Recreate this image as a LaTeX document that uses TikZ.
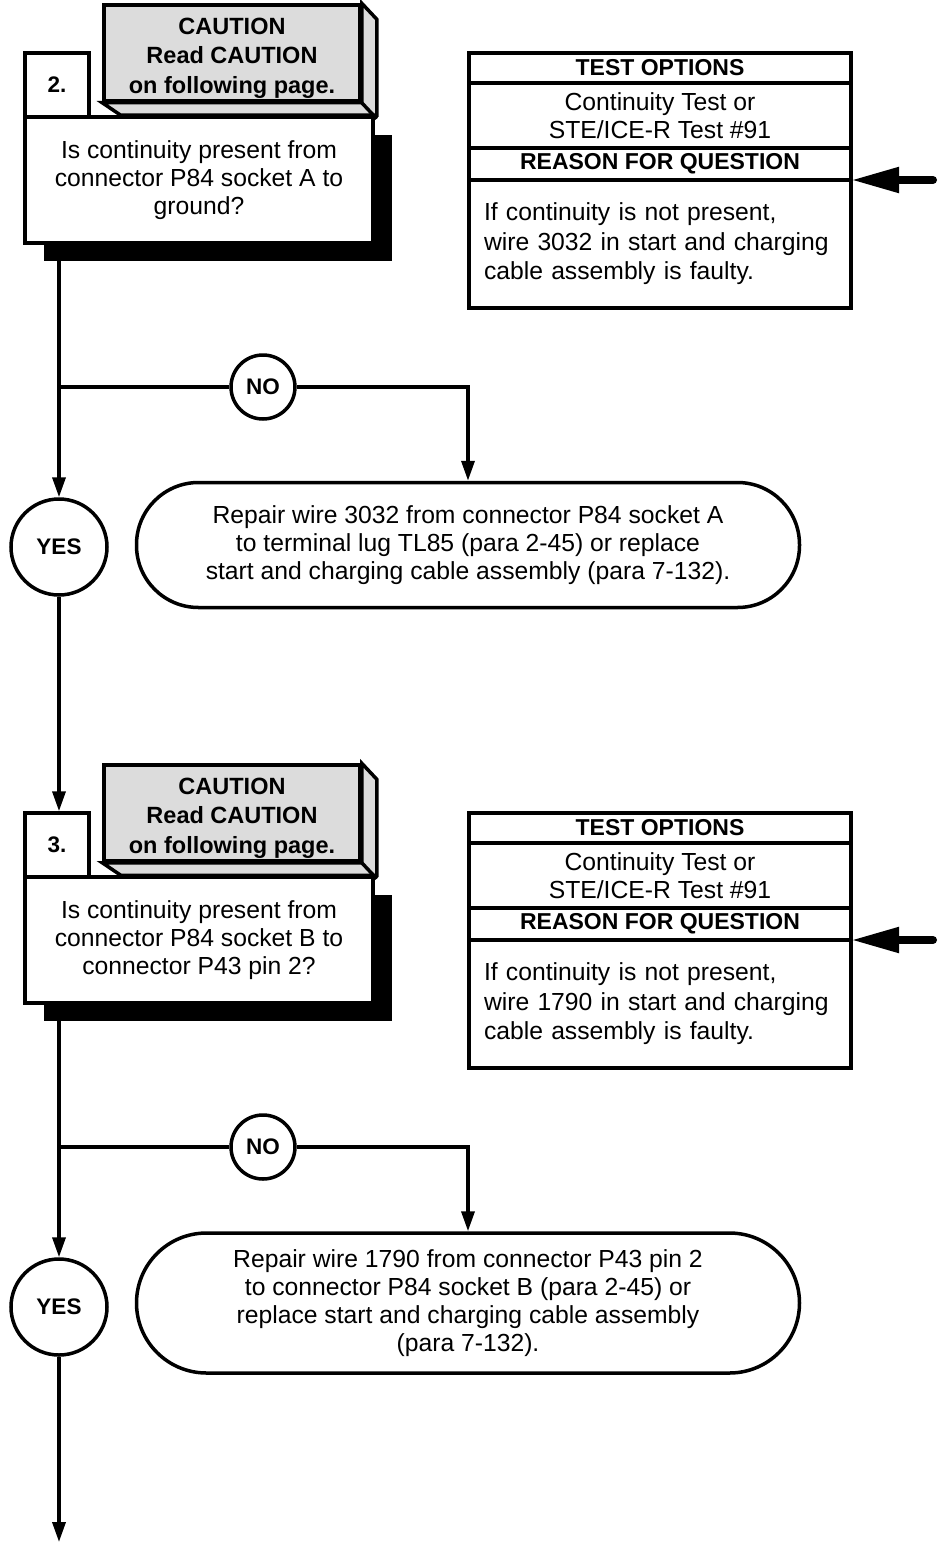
\documentclass[tikz,border=0pt]{standalone}
\usepackage{fontspec}
\setmainfont{Liberation Sans}
\usepackage{tikz}
\definecolor{gris}{HTML}{DCDCDC}
\usetikzlibrary{positioning,arrows.meta,shadows}

\begin{document}
\begin{tikzpicture}[
  x=1pt, y=-1pt,
  font=\fontsize{24.7}{28}\selectfont,
  line width=3.5pt,
  caja/.style={rectangle, draw, fill=white, minimum width=348pt, minimum height=126pt, align=center, drop shadow={shadow xshift=19pt, shadow yshift=-18pt, fill=black, opacity=1}},
  numero/.style={rectangle, draw, fill=white, minimum size=64pt, font=\fontsize{22.5}{28}\selectfont\bfseries},
  aviso/.style={rectangle, draw, fill=gris, minimum width=256pt, minimum height=96pt},
  avisotxt/.style={yshift=-5pt, align=center, inner sep=0pt, font=\fontsize{23.5}{29.5}\selectfont\bfseries},
  opcion/.style={rectangle, draw, fill=white, minimum width=382pt, outer sep=0pt, inner sep=0pt, align=center},
  cabeza/.style={opcion, font=\fontsize{23}{28}\selectfont\bfseries},
  cuerpo/.style={opcion, minimum height=128pt, text width=352pt, inner xsep=15pt, align=left, font=\fontsize{24.7}{29.5}\selectfont},
  terminal/.style={rectangle, draw, fill=white, rounded corners=62pt, minimum width=663pt, minimum height=125pt, align=center},
  circulo/.style={circle, draw, fill=white, inner sep=0pt, font=\fontsize{22.5}{28}\selectfont\bfseries},
  flecha/.style={-{Triangle[length=20pt,width=13pt]}},
  flechagrande/.style={{Triangle[length=48pt,width=24pt]}-, line width=8pt, line cap=round}
]
\useasboundingbox (0,0) rectangle (940,1544);

% paso 2
\node[caja] (preg2) at (199,180) {Is continuity present from\\connector P84 socket A to\\ground?};
\node[numero] (num2) at (57,85) {2.};
\node[aviso, label={[avisotxt]center:CAUTION\\Read CAUTION\\on following page.}] (aviso2) at (232,53) {};
\filldraw[fill=gris] (aviso2.north east) -- ++(15,16) -- ++(0,96) -- ++(-256,0) -- (aviso2.south west) -- (aviso2.south east) -- cycle;
\draw (aviso2.south east) -- ++(15,16);

\node[cabeza, minimum height=30pt] (tit2) at (660,68) {TEST OPTIONS};
\node[opcion, minimum height=65pt, below=0pt of tit2] (cont2) {Continuity Test or\\STE/ICE-R Test \#91};
\node[cabeza, minimum height=32pt, below=0pt of cont2] (raz2) {REASON FOR QUESTION};
\node[cuerpo, below=0pt of raz2] (cuer2) {If continuity is not present,\\wire 3032 in start and charging\\cable assembly is faulty.};
\coordinate (e2) at (933,180);
\draw[flechagrande] (raz2.south east) -- (e2);

\node[circulo, minimum size=64pt] (no2) at (263,387) {NO};
\node[circulo, minimum size=96pt] (si2) at (59,547) {YES};
\node[terminal] (rep2) at (468,545) {Repair wire 3032 from connector P84 socket A\\to terminal lug TL85 (para 2-45) or replace\\start and charging cable assembly (para 7-132).};
\draw[flecha] (si2 |- preg2.south) -- (si2);
\draw (no2) -- (no2 -| si2);
\draw[flecha] (no2) -| (rep2);

% paso 3
\node[caja] (preg3) at (199,940) {Is continuity present from\\connector P84 socket B to\\connector P43 pin 2?};
\node[numero] (num3) at (57,845) {3.};
\node[aviso, label={[avisotxt]center:CAUTION\\Read CAUTION\\on following page.}] (aviso3) at (232,813) {};
\filldraw[fill=gris] (aviso3.north east) -- ++(15,16) -- ++(0,96) -- ++(-256,0) -- (aviso3.south west) -- (aviso3.south east) -- cycle;
\draw (aviso3.south east) -- ++(15,16);
\draw[flecha] (si2) -- (si2 |- num3.north);

\node[cabeza, minimum height=30pt] (tit3) at (660,828) {TEST OPTIONS};
\node[opcion, minimum height=65pt, below=0pt of tit3] (cont3) {Continuity Test or\\STE/ICE-R Test \#91};
\node[cabeza, minimum height=32pt, below=0pt of cont3] (raz3) {REASON FOR QUESTION};
\node[cuerpo, below=0pt of raz3] (cuer3) {If continuity is not present,\\wire 1790 in start and charging\\cable assembly is faulty.};
\coordinate (e3) at (933,940);
\draw[flechagrande] (raz3.south east) -- (e3);

\node[circulo, minimum size=64pt] (no3) at (263,1147) {NO};
\node[circulo, minimum size=96pt] (si3) at (59,1307) {YES};
\node[terminal, minimum height=140pt, rounded corners=70pt] (rep3) at (468,1303) {Repair wire 1790 from connector P43 pin 2\\to connector P84 socket B (para 2-45) or\\replace start and charging cable assembly\\(para 7-132).};
\draw[flecha] (si3 |- preg3.south) -- (si3);
\draw (no3) -- (no3 -| si3);
\draw[flecha] (no3) -| (rep3);
\coordinate (fin) at (59,1542);
\draw[flecha] (si3) -- (fin);
\end{tikzpicture}
\end{document}
